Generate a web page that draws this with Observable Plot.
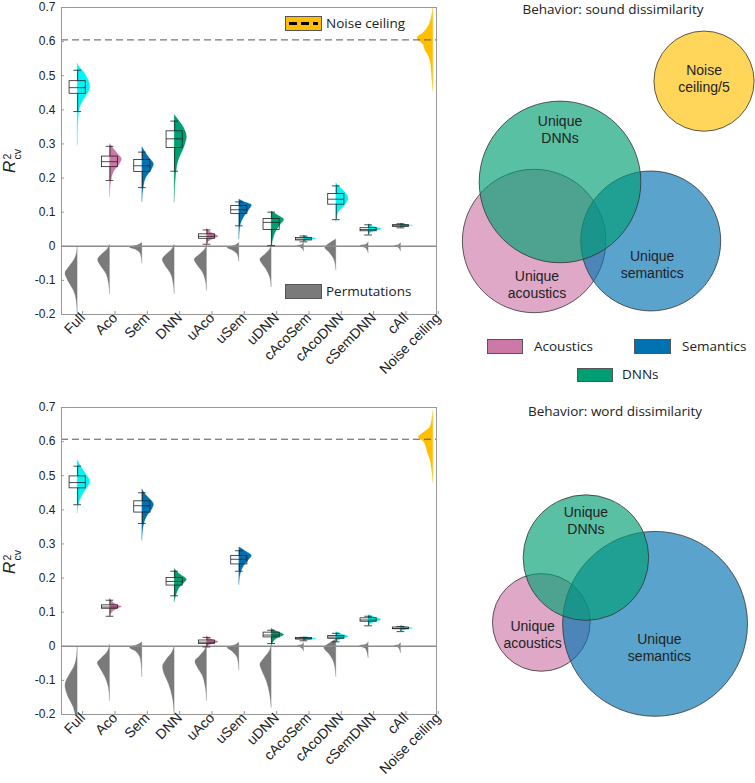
<!DOCTYPE html>
<html><head><meta charset="utf-8">
<script src="https://cdn.jsdelivr.net/npm/d3@7"></script>
<script src="https://cdn.jsdelivr.net/npm/@observablehq/plot@0.6"></script>
<style>
body{margin:0;background:#fff;font-family:"Open Sans",sans-serif;}
#root{position:relative;width:755px;height:783px;overflow:hidden;background:#fff;}
.lbl{position:absolute;font-size:13px;color:#222;white-space:nowrap;line-height:1;}
.sw{position:absolute;box-sizing:border-box;border:1px solid #555;}
</style></head><body><div id="root"></div>
<script>
// ---------------- DATA ----------------
const categories = ["Full","Aco","Sem","DNN","uAco","uSem","uDNN","cAcoSem","cAcoDNN","cSemDNN","cAll","Noise ceiling"];
const categoryGroup = ["full","aco","sem","dnn","aco","sem","dnn","shared","shared","shared","shared","nc"];
const groupColor = {full:"#00f6f6", aco:"#cc79a7", sem:"#0072b2", dnn:"#009e73", shared:"#00f6f6", nc:"#ffbf00", perm:"#7a7a7a"};
const yTicks = [-0.2,-0.1,0,0.1,0.2,0.3,0.4,0.5,0.6,0.7];

// violin profiles: [R2 value, half-width in category units]
const soundModelProfiles = [
  [[0.295,0],[0.36,0.02],[0.40,0.06],[0.43,0.2],[0.455,0.36],[0.47,0.39],[0.49,0.32],[0.51,0.2],[0.525,0.06],[0.535,0]],
  [[0.145,0],[0.19,0.04],[0.22,0.14],[0.24,0.3],[0.255,0.37],[0.27,0.25],[0.285,0.12],[0.30,0]],
  [[0.13,0],[0.17,0.04],[0.20,0.12],[0.225,0.3],[0.24,0.36],[0.255,0.25],[0.275,0.1],[0.29,0]],
  [[0.13,0],[0.2,0.04],[0.25,0.12],[0.29,0.3],[0.32,0.38],[0.345,0.3],[0.37,0.12],[0.385,0]],
  [[0.005,0],[0.015,0.08],[0.023,0.25],[0.028,0.36],[0.035,0.22],[0.045,0.06],[0.052,0]],
  [[0.02,0],[0.06,0.04],[0.085,0.15],[0.105,0.3],[0.12,0.39],[0.13,0.15],[0.137,0]],
  [[0.0,0],[0.02,0.05],[0.045,0.15],[0.065,0.3],[0.077,0.39],[0.09,0.2],[0.102,0]],
  [[0.013,0],[0.018,0.12],[0.022,0.39],[0.026,0.15],[0.031,0]],
  [[0.07,0],[0.1,0.08],[0.12,0.28],[0.14,0.38],[0.155,0.3],[0.17,0.15],[0.185,0]],
  [[0.032,0],[0.042,0.12],[0.05,0.39],[0.057,0.15],[0.065,0]],
  [[0.054,0],[0.058,0.15],[0.06,0.38],[0.063,0.12],[0.067,0]],
  [[0.455,0],[0.5,0.04],[0.54,0.08],[0.56,0.15],[0.575,0.25],[0.59,0.3],[0.61,0.49],[0.625,0.3],[0.645,0.14],[0.67,0.05],[0.7,0]]
];
const soundPermProfiles = [
  [[-0.2,0],[-0.16,0.03],[-0.13,0.12],[-0.1,0.3],[-0.08,0.38],[-0.06,0.25],[-0.04,0.1],[-0.02,0.02],[0.0,0]],
  [[-0.14,0],[-0.11,0.03],[-0.08,0.12],[-0.055,0.3],[-0.04,0.37],[-0.025,0.25],[-0.01,0.08],[0.005,0]],
  [[-0.05,0],[-0.025,0.04],[-0.01,0.2],[-0.004,0.38],[0.002,0.15],[0.01,0]],
  [[-0.14,0],[-0.11,0.03],[-0.08,0.12],[-0.055,0.3],[-0.04,0.37],[-0.025,0.25],[-0.01,0.08],[0.005,0]],
  [[-0.13,0],[-0.1,0.04],[-0.075,0.14],[-0.055,0.3],[-0.04,0.38],[-0.025,0.22],[-0.01,0.06],[0.005,0]],
  [[-0.045,0],[-0.025,0.05],[-0.012,0.22],[-0.005,0.36],[0.002,0.12],[0.01,0]],
  [[-0.12,0],[-0.09,0.05],[-0.07,0.15],[-0.05,0.3],[-0.04,0.35],[-0.025,0.2],[-0.01,0.05],[0.005,0]],
  [[-0.015,0],[-0.005,0.08],[0,0.2],[0.004,0.05],[0.01,0]],
  [[-0.07,0],[-0.04,0.06],[-0.02,0.2],[-0.005,0.34],[0.008,0.2],[0.02,0]],
  [[-0.02,0],[-0.006,0.08],[0,0.26],[0.005,0.06],[0.012,0]],
  [[-0.015,0],[-0.004,0.07],[0,0.19],[0.004,0.05],[0.01,0]]
];
// boxes: [whisker low, q1, median, q3, whisker high]
const soundBoxes = [
  [0.395,0.447,0.465,0.484,0.516],
  [0.193,0.232,0.248,0.263,0.293],
  [0.172,0.218,0.236,0.253,0.276],
  [0.22,0.288,0.315,0.337,0.367],
  [0.006,0.022,0.029,0.035,0.048],
  [0.06,0.095,0.107,0.118,0.13],
  [0.002,0.048,0.07,0.08,0.1],
  [0.013,0.017,0.021,0.024,0.03],
  [0.078,0.122,0.138,0.153,0.177],
  [0.033,0.044,0.049,0.053,0.063],
  [0.054,0.057,0.06,0.062,0.066]
];
const soundNoiseCeiling = 0.605;

const wordModelProfiles = [
  [[0.39,0],[0.42,0.05],[0.45,0.2],[0.47,0.34],[0.48,0.39],[0.5,0.3],[0.52,0.15],[0.545,0]],
  [[0.085,0],[0.1,0.08],[0.11,0.25],[0.115,0.37],[0.122,0.2],[0.132,0.06],[0.14,0]],
  [[0.31,0],[0.35,0.04],[0.38,0.15],[0.4,0.3],[0.415,0.36],[0.43,0.25],[0.445,0.1],[0.46,0]],
  [[0.13,0],[0.15,0.06],[0.17,0.15],[0.185,0.3],[0.195,0.38],[0.205,0.25],[0.218,0.08],[0.227,0]],
  [[-0.005,0],[0.003,0.08],[0.008,0.25],[0.012,0.36],[0.018,0.2],[0.024,0.06],[0.03,0]],
  [[0.18,0],[0.21,0.04],[0.235,0.15],[0.255,0.32],[0.265,0.39],[0.275,0.25],[0.29,0]],
  [[0.0,0],[0.012,0.06],[0.024,0.2],[0.033,0.39],[0.04,0.25],[0.046,0.08],[0.052,0]],
  [[0.015,0],[0.019,0.15],[0.022,0.39],[0.025,0.15],[0.028,0]],
  [[0.01,0],[0.018,0.1],[0.024,0.3],[0.028,0.38],[0.034,0.2],[0.042,0]],
  [[0.058,0],[0.068,0.12],[0.077,0.39],[0.084,0.2],[0.092,0]],
  [[0.043,0],[0.048,0.15],[0.052,0.38],[0.056,0.15],[0.061,0]],
  [[0.48,0],[0.52,0.04],[0.55,0.1],[0.57,0.18],[0.585,0.22],[0.6,0.3],[0.612,0.45],[0.625,0.3],[0.64,0.1],[0.66,0.04],[0.69,0]]
];
const wordPermProfiles = [
  [[-0.21,0.05],[-0.18,0.12],[-0.15,0.28],[-0.115,0.38],[-0.085,0.25],[-0.06,0.1],[-0.03,0.02],[0.0,0]],
  [[-0.16,0],[-0.12,0.04],[-0.09,0.15],[-0.065,0.3],[-0.05,0.38],[-0.035,0.25],[-0.015,0.06],[0.005,0]],
  [[-0.09,0],[-0.04,0.04],[-0.015,0.2],[-0.005,0.38],[0.003,0.15],[0.012,0]],
  [[-0.2,0],[-0.15,0.06],[-0.11,0.18],[-0.08,0.32],[-0.06,0.36],[-0.04,0.25],[-0.02,0.08],[0.0,0]],
  [[-0.16,0],[-0.12,0.04],[-0.085,0.14],[-0.06,0.3],[-0.045,0.36],[-0.03,0.22],[-0.012,0.06],[0.005,0]],
  [[-0.07,0],[-0.035,0.05],[-0.015,0.22],[-0.005,0.36],[0.003,0.12],[0.01,0]],
  [[-0.18,0],[-0.14,0.05],[-0.1,0.16],[-0.07,0.3],[-0.055,0.35],[-0.035,0.22],[-0.015,0.06],[0.0,0]],
  [[-0.015,0],[-0.005,0.08],[0,0.2],[0.004,0.05],[0.01,0]],
  [[-0.09,0],[-0.05,0.06],[-0.025,0.2],[-0.005,0.37],[0.008,0.2],[0.02,0]],
  [[-0.035,0],[-0.008,0.08],[0,0.27],[0.005,0.06],[0.012,0]],
  [[-0.02,0],[-0.004,0.07],[0,0.2],[0.004,0.05],[0.01,0]]
];
const wordBoxes = [
  [0.415,0.463,0.48,0.498,0.528],
  [0.088,0.11,0.115,0.12,0.135],
  [0.36,0.392,0.412,0.425,0.45],
  [0.148,0.178,0.19,0.2,0.22],
  [-0.002,0.007,0.012,0.017,0.026],
  [0.22,0.24,0.255,0.265,0.28],
  [0.008,0.026,0.033,0.04,0.047],
  [0.016,0.02,0.022,0.024,0.026],
  [0.013,0.022,0.027,0.03,0.038],
  [0.06,0.072,0.077,0.082,0.088],
  [0.043,0.05,0.052,0.055,0.058]
];
const wordNoiseCeiling = 0.607;

// Venn diagrams: circle area proportional to R2 (noise ceiling shown /5)
const vennGroups = ["aco","sem","dnn","nc"];
const soundVennValues = [0.248, 0.236, 0.315, 0.605/5];
const soundVennX = [0.65, 1.46, 0.83, 1.83];
const soundVennY = [1.67, 1.67, 1.26, 0.56];
const soundVennLabels = ["Unique\nacoustics","Unique\nsemantics","Unique\nDNNs","Noise\nceiling/5"];
const soundVennLabelX = [0.67, 1.47, 0.83, 1.83];
const soundVennLabelY = [1.97, 1.83, 0.89, 0.54];
const wordVennValues = [0.115, 0.412, 0.19];
const wordVennX = [0.70, 1.49, 1.01];
const wordVennY = [1.68, 1.69, 1.23];
const wordVennLabels = ["Unique\nacoustics","Unique\nsemantics","Unique\nDNNs"];
const wordVennLabelX = [0.64, 1.52, 1.01];
const wordVennLabelY = [1.76, 1.85, 0.97];
const vennFill = {aco:"#cc79a7", sem:"#0072b2", dnn:"#009e73", nc:"#ffc000"};
const legendItems = ["Acoustics","Semantics","DNNs"];

// ---------------- DRAWING ----------------
const root = document.getElementById("root");
const FONT = "'Open Sans', sans-serif";
const AXFONT = "'Liberation Sans', Arial, sans-serif";

function place(el, left, top) {
  el.style.position = "absolute"; el.style.left = left + "px"; el.style.top = top + "px";
  root.appendChild(el); return el;
}

function violinPanel(modelProfiles, permProfiles, boxes, noiseCeiling) {
  const modelRows = modelProfiles.flatMap((prof, k) => prof.map(([v, w]) => ({i: k + 1, v, w, g: categoryGroup[k], dir: categoryGroup[k] === "nc" ? -1 : 1})));
  const permRows = permProfiles.flatMap((prof, k) => prof.map(([v, w]) => ({i: k + 1, v, w, g: "perm", dir: -1})));
  const boxRows = boxes.map(([lo, q1, med, q3, hi], k) => ({i: k + 1, lo, q1, med, q3, hi}));
  const xa = d => d.dir < 0 ? d.i - d.w : d.i;
  const xb = d => d.dir < 0 ? d.i : d.i + d.w;
  const bw = 0.25, cw = 0.12;
  const boxStroke = {stroke: "#222", strokeWidth: 0.8};
  return Plot.plot({
    width: 445, height: 392,
    marginLeft: 61, marginRight: 9, marginTop: 10, marginBottom: 75,
    x: {domain: [0.5, 12.1]},
    y: {domain: [-0.2, 0.7]},
    color: {type: "identity"},
    style: {fontFamily: AXFONT, fontSize: "12px", background: "none", color: "#222"},
    marks: [
      Plot.areaX(permRows, {y: "v", x1: xa, x2: xb, z: "i", fill: groupColor.perm, stroke: groupColor.perm, strokeWidth: 0.5, strokeOpacity: 0.5, curve: "monotone-y", clip: true}),
      Plot.areaX(modelRows, {y: "v", x1: xa, x2: xb, z: "i", fill: d => groupColor[d.g], stroke: d => groupColor[d.g], strokeWidth: 0.5, strokeOpacity: 0.5, curve: "monotone-y", clip: true}),
      Plot.ruleY([0], {stroke: "#8c8c8c", strokeWidth: 1.4}),
      Plot.ruleY([noiseCeiling], {stroke: "#555", strokeWidth: 1, strokeDasharray: "7,4"}),
      Plot.ruleX(boxRows, {x: "i", y1: "lo", y2: "q1", ...boxStroke}),
      Plot.ruleX(boxRows, {x: "i", y1: "q3", y2: "hi", ...boxStroke}),
      Plot.ruleY(boxRows, {y: "lo", x1: d => d.i - cw, x2: d => d.i + cw, ...boxStroke}),
      Plot.ruleY(boxRows, {y: "hi", x1: d => d.i - cw, x2: d => d.i + cw, ...boxStroke}),
      Plot.rect(boxRows, {x1: d => d.i - bw, x2: d => d.i + bw, y1: "q1", y2: "q3", fill: "none", ...boxStroke}),
      Plot.ruleY(boxRows, {y: "med", x1: d => d.i - bw, x2: d => d.i + bw, ...boxStroke}),
      Plot.frame({stroke: "#999"}),
      Plot.axisY({ticks: yTicks, tickFormat: d => d === 0 ? "0" : (d < 0 ? "-" : "") + Math.abs(d).toFixed(1), tickSize: -3, tickPadding: 9, label: null, stroke: "#999"}),
      Plot.axisX({ticks: d3.range(1, 13), tickFormat: i => categories[i - 1], tickRotate: -45, tickSize: -3, tickPadding: 4, dx: 5, label: null, fontSize: 14, stroke: "#999"})
    ]
  });
}

function vennPanel(values, xs, ys, labels, lx, ly, height) {
  const circles = values.map((v, k) => ({v, x: xs[k], y: ys[k], g: vennGroups[k]}));
  const texts = labels.map((t, k) => ({t, x: lx[k], y: ly[k]}));
  const unit = 144; // px per unit of sqrt(R2)
  return Plot.plot({
    width: 315, height,
    margin: 0,
    x: {domain: [0, 315 / unit], range: [0, 315]},
    y: {domain: [0, height / unit], range: [0, height]},
    r: {type: "sqrt", domain: [0, 1], range: [0, unit]},
    axis: null,
    style: {fontFamily: AXFONT, background: "none", color: "#222"},
    marks: [
      Plot.dot(circles, {x: "x", y: "y", r: "v", fill: d => vennFill[d.g], fillOpacity: 0.65, stroke: "#333", strokeWidth: 0.8, sort: null}),
      Plot.text(texts, {x: "x", y: "y", text: "t", fontSize: 14, lineHeight: 1.22, fill: "#222"})
    ]
  });
}

// left panels
place(violinPanel(soundModelProfiles, soundPermProfiles, soundBoxes, soundNoiseCeiling), 0, -3);
place(violinPanel(wordModelProfiles, wordPermProfiles, wordBoxes, wordNoiseCeiling), 0, 397);
// right panels
place(vennPanel(soundVennValues, soundVennX, soundVennY, soundVennLabels, soundVennLabelX, soundVennLabelY, 330), 440, 0);
place(vennPanel(wordVennValues, wordVennX, wordVennY, wordVennLabels, wordVennLabelX, wordVennLabelY, 400), 440, 380);

// y-axis labels
function yLabel(cy) {
  const d = document.createElement("div");
  d.style.cssText = "width:60px;text-align:center;transform:rotate(-90deg);font-family:'Liberation Sans',Arial,sans-serif;color:#222;line-height:1;white-space:nowrap;";
  d.innerHTML = '<i style="font-size:17px">R</i><span style="display:inline-block;vertical-align:-6px;font-size:10.5px;line-height:0.95;text-align:left;margin-left:1px"><span style="display:block">2</span><span style="display:block">cv</span></span>';
  place(d, 12 - 30, cy - 10);
}
yLabel(160); yLabel(561);

// titles
function label(text, left, top, size, extra) {
  const d = document.createElement("div");
  d.className = "lbl"; d.textContent = text; d.style.fontSize = size + "px";
  if (extra) d.style.cssText += extra;
  return place(d, left, top);
}
label("Behavior: sound dissimilarity", 473, 3, 13.5, "width:280px;text-align:center;");
label("Behavior: word dissimilarity", 475, 405, 13.5, "width:280px;text-align:center;");

// legend in top-left panel
function swatch(left, top, w, h, color, dashed) {
  const s = document.createElement("div");
  s.className = "sw"; s.style.width = w + "px"; s.style.height = h + "px"; s.style.background = color;
  if (dashed) {
    const l = document.createElement("div");
    l.style.cssText = "position:absolute;left:3px;right:3px;top:50%;height:3px;margin-top:-1.5px;background:repeating-linear-gradient(to right,#000 0 8px,transparent 8px 12px);";
    s.appendChild(l);
  }
  return place(s, left, top);
}
swatch(285, 16, 37, 15, groupColor.nc, true);
label("Noise ceiling", 326, 17, 13.5);
swatch(285, 284, 37, 15, groupColor.perm, false);
label("Permutations", 326, 285, 13.5);

// Venn legend
swatch(487, 339, 36, 15, vennFill.aco, false);
label(legendItems[0], 534, 340, 13.5);
swatch(634, 339, 37, 15, vennFill.sem, false);
label(legendItems[1], 682, 340, 13.5);
swatch(577, 368, 36, 14, vennFill.dnn, false);
label(legendItems[2], 622, 368, 13.5);
</script></body></html>
